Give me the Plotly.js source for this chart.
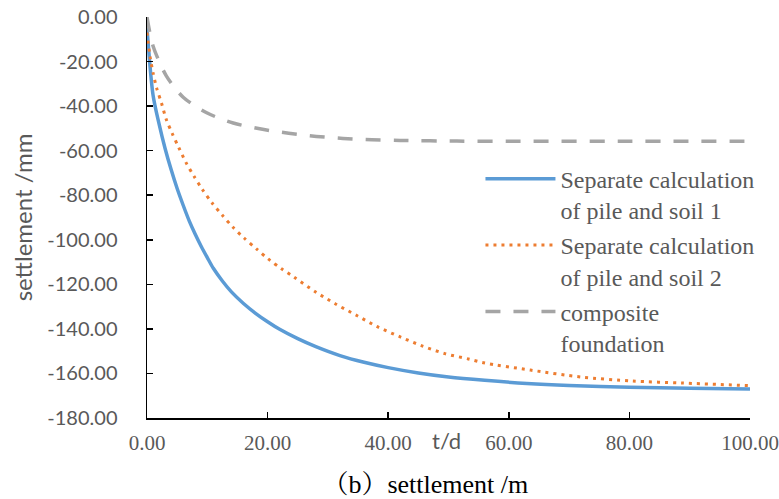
<!DOCTYPE html>
<html>
<head>
<meta charset="utf-8">
<script src="https://cdn.plot.ly/plotly-3.0.1.min.js"></script>
<style>html,body{margin:0;padding:0;background:#fff;}#chart{width:779px;height:499px;}</style>
</head>
<body>
<div id="chart"></div>
<script>
// ---- data ----
const seriesNames = [
  "Separate calculation<br>of pile and soil 1",
  "Separate calculation<br>of pile and soil 2",
  "composite<br>foundation"
];
const tSoil1 = [0, 1, 2, 3, 4, 5, 6, 7, 8, 9, 10, 11, 12.5, 14, 16, 18, 20, 22, 25, 28, 32, 36, 40, 45, 50, 56, 63, 70, 80, 90, 100];
const vSoil1 = [-5, -35, -48, -59, -68.5, -77, -84.5, -91.5, -97.5, -103, -108, -112.8, -118.5, -123.4, -128.6, -133, -136.8, -140.2, -144.4, -148, -152, -155, -157.4, -159.8, -161.6, -163.1, -164.5, -165.4, -166.2, -166.7, -167];

const tSoil2 = [0, 0.5, 1, 1.6, 2.4, 3.2, 4.2, 5.3, 6.5, 7.8, 9.2, 10.8, 12.5, 14.3, 16.1, 18.2, 20.1, 22.3, 24.4, 27.9, 31.2, 34.8, 38.1, 42, 45.5, 49.4, 53.3, 55.8, 63.6, 72, 80.4, 88.8, 100];
const vSoil2 = [-7, -17.7, -25, -31.9, -38.6, -46, -52.4, -58.8, -65.5, -71.5, -77.5, -83.5, -89, -94.5, -99.2, -104.2, -108.6, -113, -116.8, -123.3, -128.7, -134, -138.9, -143.6, -147.5, -151.1, -153.5, -155.2, -158.5, -161.6, -163.4, -164.3, -165.5];

const tComposite = [0, 1, 3.2, 6, 9.9, 14.3, 18.7, 23.5, 28.1, 32.5, 37.3, 42, 51.4, 60, 80, 100];
const vComposite = [0, -13, -26.4, -36, -43, -47.6, -50.2, -52.2, -53.6, -54.5, -55.1, -55.4, -55.7, -55.8, -55.8, -55.8];

const xTickVals = [0, 20, 40, 60, 80, 100];
const xTickText = ["0.00", "20.00", "40.00", "60.00", "80.00", "100.00"];
const yTickVals = [0, -20, -40, -60, -80, -100, -120, -140, -160, -180];
const yTickText = ["0.00", "-20.00", "-40.00", "-60.00", "-80.00", "-100.00", "-120.00", "-140.00", "-160.00", "-180.00"];

const xLabel = "t/d";
const yLabel = "settlement /mm";
const caption = "（b）settlement /m";

// ---- chart ----
const traces = [
  {x: tSoil1, y: vSoil1, name: seriesNames[0], legendgroup: "g1", mode: "lines",
   line: {color: "#5B9BD5", width: 3.5, shape: "spline", smoothing: 0.8}},
  {x: tSoil2, y: vSoil2, name: seriesNames[1], legendgroup: "g2", mode: "lines",
   line: {color: "#ED7D31", width: 3, dash: "3px,5px", shape: "spline", smoothing: 0.8}},
  {x: tComposite, y: vComposite, name: seriesNames[2], legendgroup: "g3", mode: "lines",
   line: {color: "#A5A5A5", width: 3.5, dash: "15px,13px", shape: "spline", smoothing: 0.8}}
];

const grayText = "#595959";
const layout = {
  width: 779, height: 499,
  margin: {l: 147, r: 29, t: 17, b: 81},
  paper_bgcolor: "#fff", plot_bgcolor: "#fff",
  showlegend: true,
  legend: {
    x: 0.553, xanchor: "left", y: 0.652, yanchor: "top",
    font: {family: "Liberation Serif, serif", size: 24, color: grayText},
    valign: "top", tracegroupgap: 1, itemwidth: 70,
    bgcolor: "rgba(0,0,0,0)"
  },
  title: {
    text: caption, xref: "container", yref: "container",
    x: 0.546, xanchor: "center", y: 0.03, yanchor: "middle",
    font: {family: "Liberation Serif, Noto Serif CJK SC, Noto Sans CJK SC, serif", size: 26, color: "#000"}
  },
  xaxis: {
    range: [0, 100], tickvals: xTickVals, ticktext: xTickText,
    showline: true, linecolor: "#000", linewidth: 1.5,
    ticks: "inside", ticklen: 6, tickwidth: 1.5, tickcolor: "#000",
    showgrid: false, zeroline: false, ticklabelstandoff: 5,
    tickfont: {family: "Liberation Serif, serif", size: 21, color: grayText}
  },
  yaxis: {
    range: [-180, 0], tickvals: yTickVals, ticktext: yTickText,
    showline: true, linecolor: "#000", linewidth: 1.5,
    ticks: "inside", ticklen: 6, tickwidth: 1.5, tickcolor: "#000",
    showgrid: false, zeroline: false, ticklabelstandoff: 24,
    tickfont: {family: "Lato, sans-serif", size: 20, color: grayText},
    title: {text: yLabel, standoff: 8, font: {family: "Lato, sans-serif", size: 24, color: grayText}}
  },
  annotations: [
    {text: xLabel, xref: "paper", yref: "paper", x: 0.496, y: -0.055,
     xanchor: "center", yanchor: "middle", showarrow: false,
     font: {family: "Lato, sans-serif", size: 22, color: grayText}}
  ]
};

Plotly.newPlot("chart", traces, layout, {displayModeBar: false, staticPlot: true});
</script>
</body>
</html>
